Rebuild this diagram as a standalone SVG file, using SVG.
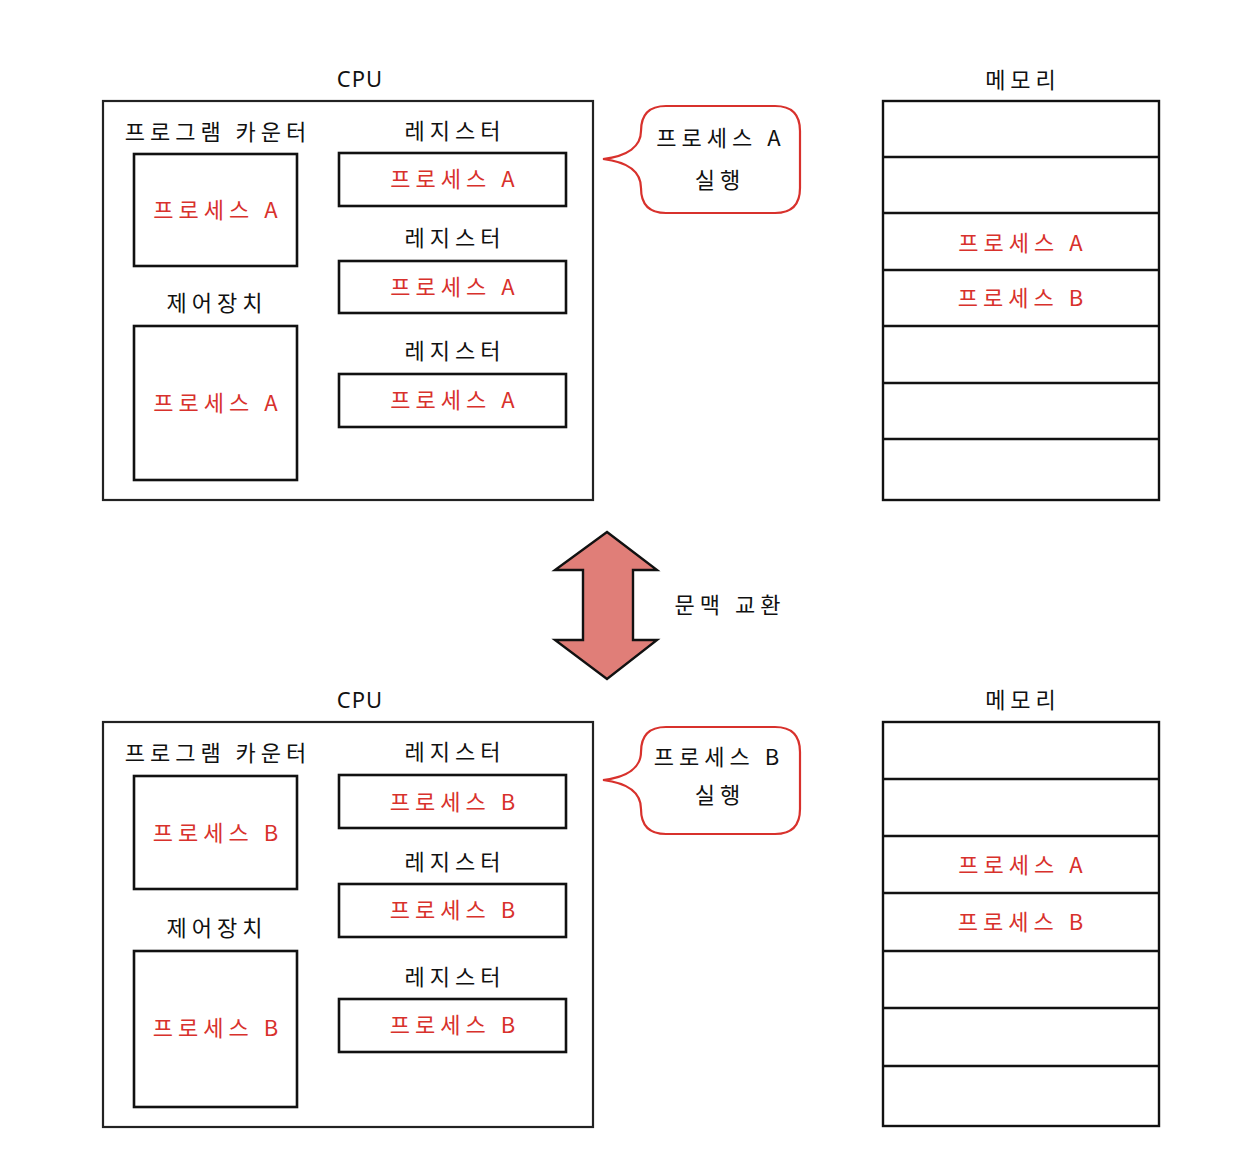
<svg xmlns="http://www.w3.org/2000/svg" width="1240" height="1158" viewBox="0 0 1240 1158">
<style>
text{font-family:"Noto Sans CJK KR","Noto Sans",sans-serif;font-size:22px;letter-spacing:5px;text-anchor:middle;fill:#111}
.red{fill:#d8312c}
.lat{font-family:"Noto Sans",sans-serif;font-size:22px;letter-spacing:1px}
.box{fill:#fff;stroke:#111;stroke-width:2.6}
.outer{fill:#fff;stroke:#222;stroke-width:2.2}
.mem{fill:#fff;stroke:#111;stroke-width:2.4}
.row{stroke:#111;stroke-width:2.4;fill:none}
.bubble{fill:#fff;stroke:#d8312c;stroke-width:2.2}
.arrow{fill:#e07e78;stroke:#111;stroke-width:2.4;stroke-linejoin:miter}
</style>
<rect width="1240" height="1158" fill="#fff"/>

<g id="cpu-top">
<text class="lat" x="360" y="87">CPU</text>
<rect class="outer" x="103" y="101" width="490" height="399"/>
</g>
<g id="pc-top">
<text x="218" y="140">프로그램 카운터</text>
<rect class="box" x="134" y="154" width="163" height="112"/>
<text class="red" x="218" y="218">프로세스 A</text>
</g>
<g id="cu-top">
<text x="217" y="311">제어장치</text>
<rect class="box" x="134" y="326" width="163" height="154"/>
<text class="red" x="218" y="411">프로세스 A</text>
</g>
<g id="reg1-top">
<text x="455" y="139">레지스터</text>
<rect class="box" x="339" y="153" width="227" height="53"/>
<text class="red" x="455" y="187">프로세스 A</text>
</g>
<g id="reg2-top">
<text x="455" y="246">레지스터</text>
<rect class="box" x="339" y="261" width="227" height="52"/>
<text class="red" x="455" y="295">프로세스 A</text>
</g>
<g id="reg3-top">
<text x="455" y="359">레지스터</text>
<rect class="box" x="339" y="374" width="227" height="53"/>
<text class="red" x="455" y="408">프로세스 A</text>
</g>
<g id="bubble-top">
<path class="bubble" d="M666,106 H775 Q800,106 800,131 V188 Q800,213 775,213 H666 Q641,213 641,188 C641,172 628,162 603,159 C628,156 641,146 641,131 Q641,106 666,106 Z"/>
<text x="721" y="146">프로세스 A</text>
<text x="720" y="188">실행</text>
</g>
<g id="mem-top">
<text x="1023" y="88">메모리</text>
<rect class="mem" x="883" y="101" width="276" height="399"/>
<path class="row" d="M883,157H1159M883,213H1159M883,270H1159M883,326H1159M883,383H1159M883,439H1159"/>
<text class="red" x="1023" y="251">프로세스 A</text>
<text class="red" x="1023" y="306">프로세스 B</text>
</g>

<g id="connectors">
<polygon class="arrow" points="607,532 657,570 633,570 633,640 657,640 607,679 555,640 583,640 583,570 555,570"/>
</g>
<g id="switch-label">
<text x="730" y="613">문맥 교환</text>
</g>

<g id="cpu-bottom">
<text class="lat" x="360" y="708">CPU</text>
<rect class="outer" x="103" y="722" width="490" height="405"/>
</g>
<g id="pc-bottom">
<text x="218" y="761">프로그램 카운터</text>
<rect class="box" x="134" y="776" width="163" height="113"/>
<text class="red" x="218" y="841">프로세스 B</text>
</g>
<g id="cu-bottom">
<text x="217" y="936">제어장치</text>
<rect class="box" x="134" y="951" width="163" height="156"/>
<text class="red" x="218" y="1036">프로세스 B</text>
</g>
<g id="reg1-bottom">
<text x="455" y="760">레지스터</text>
<rect class="box" x="339" y="775" width="227" height="53"/>
<text class="red" x="455" y="810">프로세스 B</text>
</g>
<g id="reg2-bottom">
<text x="455" y="870">레지스터</text>
<rect class="box" x="339" y="884" width="227" height="53"/>
<text class="red" x="455" y="918">프로세스 B</text>
</g>
<g id="reg3-bottom">
<text x="455" y="985">레지스터</text>
<rect class="box" x="339" y="999" width="227" height="53"/>
<text class="red" x="455" y="1033">프로세스 B</text>
</g>
<g id="bubble-bottom">
<path class="bubble" d="M666,727 H775 Q800,727 800,752 V809 Q800,834 775,834 H666 Q641,834 641,809 C641,793 628,783 603,780 C628,777 641,767 641,752 Q641,727 666,727 Z"/>
<text x="719" y="765">프로세스 B</text>
<text x="720" y="803">실행</text>
</g>
<g id="mem-bottom">
<text x="1023" y="708">메모리</text>
<rect class="mem" x="883" y="722" width="276" height="404"/>
<path class="row" d="M883,779H1159M883,836H1159M883,893H1159M883,951H1159M883,1008H1159M883,1066H1159"/>
<text class="red" x="1023" y="873">프로세스 A</text>
<text class="red" x="1023" y="930">프로세스 B</text>
</g>
</svg>
